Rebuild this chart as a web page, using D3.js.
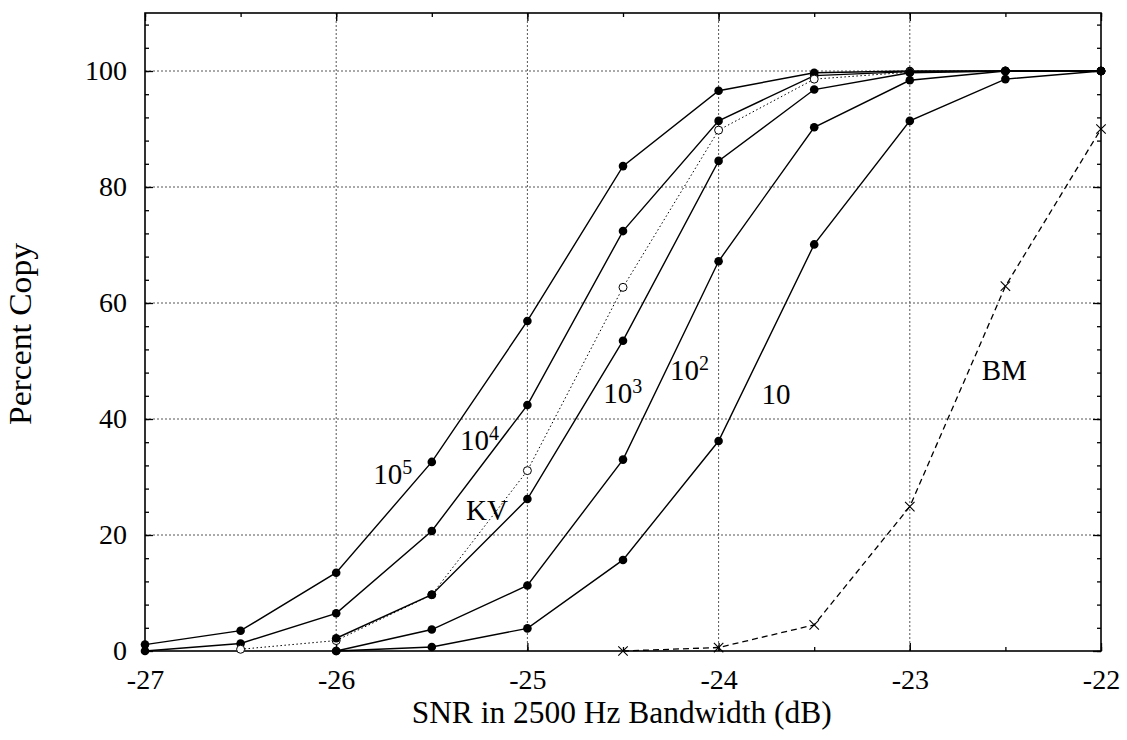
<!DOCTYPE html>
<html>
<head>
<meta charset="utf-8">
<script src="https://cdn.jsdelivr.net/npm/d3@7"></script>
<style>
body { margin: 0; background: #fff; }
text { font-family: "Liberation Serif", "DejaVu Serif", serif; fill: #000; }
</style>
</head>
<body>
<script>
var w = 1127, h = 740;

// x values (SNR dB)
var snr = [-27, -26.5, -26, -25.5, -25, -24.5, -24, -23.5, -23, -22.5, -22];

// percent copy for each curve
var copy1e5 = [1.1, 3.5, 13.5, 32.6, 56.9, 83.6, 96.6, 99.7, 100, 100, 100];
var copy1e4 = [0, 1.3, 6.5, 20.7, 42.4, 72.4, 91.4, 99.2, 99.9, 100, 100];
var copyKV = [0.3, 1.8, 9.7, 31.1, 62.7, 89.8, 98.6, 99.8, 100, 100];
var copy1e3 = [2.2, 9.7, 26.2, 53.5, 84.5, 96.8, 99.7, 100, 100];
var copy1e2 = [0, 3.7, 11.3, 33.0, 67.2, 90.3, 98.4, 100, 100];
var copy10 = [0, 0.7, 3.9, 15.7, 36.2, 70.1, 91.4, 98.6, 100];
var copyBM = [0, 0.6, 4.5, 24.9, 62.9, 90.0];

var xTicks = [-27, -26, -25, -24, -23, -22];
var yTicks = [0, 20, 40, 60, 80, 100];

// series: values are aligned to the end of snr
var series = [
    {name: "1e5", vals: copy1e5, style: "solid", mark: "dot"},
    {name: "1e4", vals: copy1e4, style: "solid", mark: "dot"},
    {name: "KV", vals: copyKV, style: "dotted", mark: "open"},
    {name: "1e3", vals: copy1e3, style: "solid", mark: "dot"},
    {name: "1e2", vals: copy1e2, style: "solid", mark: "dot"},
    {name: "10", vals: copy10, style: "solid", mark: "dot"},
    {name: "BM", vals: copyBM, style: "dashed", mark: "cross"}
];

// curve labels: left/baseline position in data coords
var labels = [
    {base: "10", sup: "5", x: -25.806, y: 28.8},
    {base: "10", sup: "4", x: -25.353, y: 34.66},
    {base: "KV", sup: "", x: -25.321, y: 22.6},
    {base: "10", sup: "3", x: -24.603, y: 42.8},
    {base: "10", sup: "2", x: -24.254, y: 46.7},
    {base: "10", sup: "", x: -23.775, y: 42.6},
    {base: "BM", sup: "", x: -22.624, y: 46.7}
];

var margin = {left: 145, right: 26, top: 13, bottom: 89};

var x = d3.scaleLinear().domain([-27, -22]).range([margin.left, w - margin.right]);
var y = d3.scaleLinear().domain([0, 110]).range([h - margin.bottom, margin.top]);

var svg = d3.select("body").append("svg")
    .attr("width", w)
    .attr("height", h);

//grid lines
svg.append("g").selectAll("line.gx")
    .data(xTicks.slice(1, -1))
    .enter().append("line")
    .attr("x1", function (d) { return x(d); })
    .attr("x2", function (d) { return x(d); })
    .attr("y1", y(0)).attr("y2", y(110))
    .attr("stroke", "#555").attr("stroke-width", 1)
    .attr("stroke-dasharray", "2,2");
svg.append("g").selectAll("line.gy")
    .data(yTicks.slice(1))
    .enter().append("line")
    .attr("y1", function (d) { return y(d); })
    .attr("y2", function (d) { return y(d); })
    .attr("x1", x(-27)).attr("x2", x(-22))
    .attr("stroke", "#555").attr("stroke-width", 1)
    .attr("stroke-dasharray", "2,2");

//axes: ticks point inward on all four sides
var yMinor = d3.range(0, 109, 4);
var xMinor = d3.range(-27, -21.9, 0.5);

svg.append("g")
    .attr("transform", "translate(" + x(-27) + ",0)")
    .call(d3.axisRight(y).tickValues(yMinor).tickFormat("")
        .tickSize(4).tickSizeOuter(0))
    .call(function (g) { g.select(".domain").remove(); });
svg.append("g")
    .attr("transform", "translate(" + x(-27) + ",0)")
    .call(d3.axisLeft(y).tickValues(yTicks).tickSize(-8).tickPadding(18))
    .call(function (g) {
        g.select(".domain").remove();
        g.selectAll("text").attr("font-size", 28).attr("fill", "#000")
            .style("font-family", "Liberation Serif");
    });
svg.append("g")
    .attr("transform", "translate(" + x(-22) + ",0)")
    .call(d3.axisLeft(y).tickValues(yMinor).tickFormat("")
        .tickSize(4).tickSizeOuter(0))
    .call(function (g) { g.select(".domain").remove(); });
svg.append("g")
    .attr("transform", "translate(" + x(-22) + ",0)")
    .call(d3.axisLeft(y).tickValues(yTicks).tickFormat("").tickSize(8))
    .call(function (g) { g.select(".domain").remove(); });

svg.append("g")
    .attr("transform", "translate(0," + y(0) + ")")
    .call(d3.axisTop(x).tickValues(xMinor).tickFormat("").tickSize(4))
    .call(function (g) { g.select(".domain").remove(); });
svg.append("g")
    .attr("transform", "translate(0," + y(0) + ")")
    .call(d3.axisBottom(x).tickValues(xTicks).tickSize(-8).tickPadding(18)
        .tickFormat(d3.format("d")))
    .call(function (g) {
        g.select(".domain").remove();
        g.selectAll("text").attr("font-size", 28).attr("fill", "#000")
            .style("font-family", "Liberation Serif");
    });
svg.append("g")
    .attr("transform", "translate(0," + y(110) + ")")
    .call(d3.axisBottom(x).tickValues(xMinor).tickFormat("").tickSize(4))
    .call(function (g) { g.select(".domain").remove(); });
svg.append("g")
    .attr("transform", "translate(0," + y(110) + ")")
    .call(d3.axisBottom(x).tickValues(xTicks).tickFormat("").tickSize(8))
    .call(function (g) { g.select(".domain").remove(); });

svg.selectAll(".tick line").attr("stroke", "#000").attr("stroke-width", 1.3);
// the hyphen-minus like the reference
svg.selectAll(".tick text").text(function () {
    return d3.select(this).text().replace("\u2212", "-");
});

//frame
svg.append("rect")
    .attr("x", x(-27)).attr("y", y(110))
    .attr("width", x(-22) - x(-27)).attr("height", y(0) - y(110))
    .attr("fill", "none").attr("stroke", "#000").attr("stroke-width", 1.6);

//lines and marks
var line = d3.line()
    .x(function (d) { return x(d[0]); })
    .y(function (d) { return y(d[1]); });

series.forEach(function (s) {
    var off = snr.length - s.vals.length;
    var pts = s.vals.map(function (v, i) { return [snr[i + off], v]; });
    var path = svg.append("path")
        .datum(pts)
        .attr("d", line)
        .attr("fill", "none")
        .attr("stroke", "#000");
    if (s.style == "solid") {
        path.attr("stroke-width", 1.4);
    } else if (s.style == "dotted") {
        path.attr("stroke-width", 1).attr("stroke-dasharray", "1.5,2.5");
    } else {
        path.attr("stroke-width", 1.3).attr("stroke-dasharray", "6,4");
    }

    var g = svg.append("g");
    if (s.mark == "dot") {
        g.selectAll("circle").data(pts).enter().append("circle")
            .attr("cx", function (d) { return x(d[0]); })
            .attr("cy", function (d) { return y(d[1]); })
            .attr("r", 4.3).attr("fill", "#000");
    } else if (s.mark == "open") {
        g.selectAll("circle").data(pts).enter().append("circle")
            .attr("cx", function (d) { return x(d[0]); })
            .attr("cy", function (d) { return y(d[1]); })
            .attr("r", 4).attr("fill", "#fff")
            .attr("stroke", "#000").attr("stroke-width", 1);
    } else {
        g.selectAll("path").data(pts).enter().append("path")
            .attr("d", d3.symbol(d3.symbolX, 60))
            .attr("transform", function (d) {
                return "translate(" + x(d[0]) + "," + y(d[1]) + ")";
            })
            .attr("fill", "none").attr("stroke", "#000").attr("stroke-width", 1.1);
    }
});

//curve labels
labels.forEach(function (l) {
    var t = svg.append("text")
        .attr("x", x(l.x)).attr("y", y(l.y))
        .attr("font-size", 29)
        .text(l.base);
    if (l.sup) {
        t.append("tspan").attr("dy", -10).attr("font-size", 20).text(l.sup);
    }
});

//axis titles
svg.append("text")
    .attr("x", 621.7)
    .attr("y", 723)
    .attr("text-anchor", "middle")
    .attr("font-size", 31)
    .attr("textLength", 420)
    .attr("lengthAdjust", "spacingAndGlyphs")
    .text("SNR in 2500 Hz Bandwidth (dB)");

svg.append("text")
    .attr("transform", "translate(31,334) rotate(-90)")
    .attr("text-anchor", "middle")
    .attr("font-size", 31)
    .attr("textLength", 182)
    .attr("lengthAdjust", "spacingAndGlyphs")
    .text("Percent Copy");
</script>
</body>
</html>
